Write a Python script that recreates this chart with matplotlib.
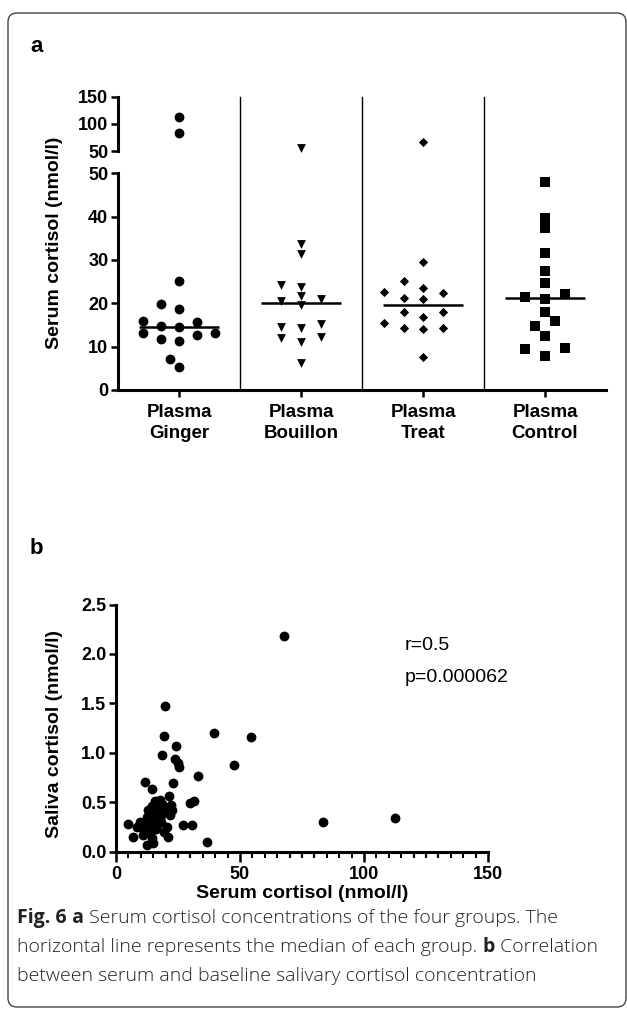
import numpy as np
import matplotlib.pyplot as plt
from matplotlib.patches import FancyBboxPatch
from matplotlib.transforms import IdentityTransform
from matplotlib.ticker import MultipleLocator

plt.rcParams['font.family'] = ['Liberation Sans', 'DejaVu Sans']

# serum cortisol (nmol/l) of the four groups
groups = ['Plasma\nGinger', 'Plasma\nBouillon', 'Plasma\nTreat', 'Plasma\nControl']
ginger = [112, 83, 25.2, 19.8, 18.7, 15.9, 15.6, 14.8, 14.5, 13.2, 13.1, 12.7, 11.8, 11.2, 7.2, 5.2]
bouillon = [55, 33.8, 31.4, 24.2, 23.8, 21.7, 21.0, 20.6, 19.6, 15.2, 14.6, 14.2, 12.3, 12.1, 11.1, 6.2]
treat = [67.2, 29.5, 25.2, 23.6, 22.6, 22.4, 21.2, 20.9, 18.1, 18.1, 16.8, 15.4, 14.4, 14.4, 14.0, 7.5]
control = [48.1, 39.8, 37.3, 31.5, 27.5, 24.6, 22.1, 21.5, 21.0, 18.1, 16.0, 14.8, 12.5, 9.6, 9.4, 7.9]

# serum vs baseline saliva cortisol (nmol/l)
serum_b = [67.7, 19.8, 19.5, 39.5, 54.3, 18.4, 24.2, 23.8, 25.1, 25.4, 47.7, 83.3, 112.5,
           11.7, 14.4, 23.1, 33.2, 15.7, 17.7, 21.5, 22.0, 19.1, 29.8, 31.5, 13.0,
           14.4, 15.1, 12.4, 21.8, 22.4, 17.7, 5.0, 8.3, 10.3, 11.7, 13.7, 16.4,
           20.4, 27.1, 30.5, 7.0, 11.0, 13.7, 21.1, 12.4, 15.1, 14.4, 36.6, 9.7,
           15.1, 19.1, 17.1, 17.0, 16.5, 18.0, 12.8, 19.5, 14.0, 16.0, 18.5]
saliva_b = [2.185, 1.47, 1.17, 1.20, 1.16, 0.98, 1.07, 0.94, 0.90, 0.86, 0.88, 0.30, 0.345,
            0.70, 0.635, 0.69, 0.77, 0.51, 0.52, 0.56, 0.47, 0.44, 0.49, 0.51, 0.42,
            0.46, 0.37, 0.355, 0.37, 0.42, 0.34, 0.28, 0.25, 0.24, 0.27, 0.28, 0.27,
            0.25, 0.27, 0.27, 0.15, 0.17, 0.19, 0.15, 0.07, 0.085, 0.135, 0.10, 0.30,
            0.30, 0.39, 0.42, 0.47, 0.40, 0.30, 0.22, 0.20, 0.33, 0.23, 0.48]
r_text = 'r=0.5'
p_text = 'p=0.000062'

W, H = 627, 1010
fig = plt.figure(figsize=(W / 100, H / 100), dpi=100)


def box(l, t, r, b):
    # pixel box (from top-left) -> figure fraction rect
    return [l / W, 1 - b / H, (r - l) / W, (b - t) / H]


# outer frame
frame = FancyBboxPatch((8, 3), 618, 994, boxstyle='round,pad=0,rounding_size=9',
                       transform=IdentityTransform(), fill=False, ec='#444444', lw=1.0)
fig.patches.append(frame)

SP = 2.2
tick_kw = dict(width=1.8, labelsize=13)

# ---- panel a: broken y axis
ax_lo = fig.add_axes(box(118, 173.3, 606, 390))
ax_hi = fig.add_axes(box(118, 96.7, 606, 151))
for ax in (ax_lo, ax_hi):
    ax.set_xlim(-0.5, 3.5)
    ax.spines[['top', 'right']].set_visible(False)
    ax.spines['left'].set_linewidth(SP)
    ax.patch.set_visible(False)
ax_lo.set_ylim(0, 50)
ax_hi.set_ylim(50, 150)
ax_lo.spines['bottom'].set_linewidth(SP)
ax_hi.spines['bottom'].set_visible(False)
ax_hi.set_xticks([])
ax_lo.set_yticks(np.arange(0, 51, 10))
ax_hi.set_yticks([50, 100, 150])
for ax in (ax_lo, ax_hi):
    ax.tick_params(axis='y', length=5, pad=2, **tick_kw)
    for t in ax.get_yticklabels():
        t.set_fontweight('bold')
ax_lo.set_xticks(range(4))
ax_lo.set_xticklabels(groups, fontsize=13.5, fontweight='bold', linespacing=1.3)
ax_lo.tick_params(axis='x', length=5, width=1.8, pad=5)

# separators run across the break
lo_pos, hi_pos = ax_lo.get_position(), ax_hi.get_position()
top_frac = (hi_pos.y1 - lo_pos.y0) / lo_pos.height
for xs in (0.5, 1.5, 2.5):
    ax_lo.axvline(xs, 0, top_frac, color='k', lw=1.0, clip_on=False)


def swarm(vals, x0, dx, dy):
    # greedy beeswarm in pixel space (elliptic spacing), returns x offsets in data units
    ys = []
    for v in vals:
        ax = ax_hi if v > 50 else ax_lo
        ys.append(ax.transData.transform((x0, v))[1])
    cands = [0.0]
    for k in range(1, 14):
        cands += [-k * dx / 2, k * dx / 2]
    placed = []
    offs = np.zeros(len(vals))
    for i in np.argsort(ys):
        for c in cands:
            if all(((c - px) / dx) ** 2 + ((ys[i] - py) / dy) ** 2 >= 1 for px, py in placed):
                offs[i] = c
                placed.append((c, ys[i]))
                break
    unit = ax_lo.transData.transform((1, 0))[0] - ax_lo.transData.transform((0, 0))[0]
    return offs / unit


series = [(ginger, 'o', 50, 17.8, 10), (bouillon, 'v', 40, 20, 9),
          (treat, 'D', 22, 19.5, 9), (control, 's', 56, 20, 10.5)]
for gi, (vals, mk, sz, dx, dy) in enumerate(series):
    vals = np.asarray(vals, float)
    xs = gi + swarm(vals, gi, dx, dy)
    lo = vals <= 50
    ax_lo.scatter(xs[lo], vals[lo], marker=mk, s=sz, c='k', lw=0, clip_on=False, zorder=3)
    ax_hi.scatter(xs[~lo], vals[~lo], marker=mk, s=sz, c='k', lw=0, clip_on=False, zorder=3)
    ax_lo.hlines(np.median(vals), gi - 0.33, gi + 0.33, color='k', lw=1.8, zorder=4)

fig.text(55 / W, 1 - 243 / H, 'Serum cortisol (nmol/l)', rotation=90, ha='center', va='center',
         fontsize=14, fontweight='bold')
fig.text(30 / W, 1 - 47 / H, 'a', ha='left', va='center', fontsize=16, fontweight='bold')

# ---- panel b: correlation
ax_b = fig.add_axes(box(116, 604.5, 488, 851.7))
ax_b.scatter(serum_b, saliva_b, s=50, c='k', lw=0, clip_on=False, zorder=3)
ax_b.set_xlim(0, 150)
ax_b.set_ylim(0, 2.5)
ax_b.spines[['top', 'right']].set_visible(False)
ax_b.spines[['left', 'bottom']].set_linewidth(SP)
ax_b.patch.set_visible(False)
ax_b.xaxis.set_major_locator(MultipleLocator(50))
ax_b.xaxis.set_minor_locator(MultipleLocator(5))
ax_b.yaxis.set_major_locator(MultipleLocator(0.5))
ax_b.yaxis.set_major_formatter(lambda v, p: f'{v:.1f}')
ax_b.tick_params(axis='x', which='major', length=7, pad=3, **tick_kw)
ax_b.tick_params(axis='x', which='minor', length=4, width=1.5)
ax_b.tick_params(axis='y', length=5, pad=2, **tick_kw)
for t in ax_b.get_xticklabels() + ax_b.get_yticklabels():
    t.set_fontweight('bold')
fig.text(302 / W, 1 - 893 / H, 'Serum cortisol (nmol/l)', ha='center', va='center',
         fontsize=14, fontweight='bold')
fig.text(55 / W, 1 - 734 / H, 'Saliva cortisol (nmol/l)', rotation=90, ha='center', va='center',
         fontsize=14, fontweight='bold')
fig.text(405 / W, 1 - 645 / H, r_text, ha='left', va='center', fontsize=14)
fig.text(405 / W, 1 - 678 / H, p_text, ha='left', va='center', fontsize=14)
fig.text(30 / W, 1 - 548 / H, 'b', ha='left', va='center', fontsize=16, fontweight='bold')

# ---- caption with bold runs
cap_font = ['Open Sans', 'DejaVu Sans']
caption = [
    [('Fig. 6', 'bold'), (' a', 'bold'), (' Serum cortisol concentrations of the four groups. The', 'light')],
    [('horizontal line represents the median of each group. ', 'light'), ('b', 'bold'),
     (' Correlation', 'light')],
    [('between serum and baseline salivary cortisol concentration', 'light')],
]
renderer = fig.canvas.get_renderer()
for li, runs in enumerate(caption):
    x = 17 / W
    y = 1 - (923 + 29 * li) / H
    for txt, wt in runs:
        t = fig.text(x, y, txt, fontsize=14, fontweight=wt, family=cap_font, va='baseline',
                     color='#222222')
        x += t.get_window_extent(renderer).width / W

fig.savefig('out.png', dpi=100)
